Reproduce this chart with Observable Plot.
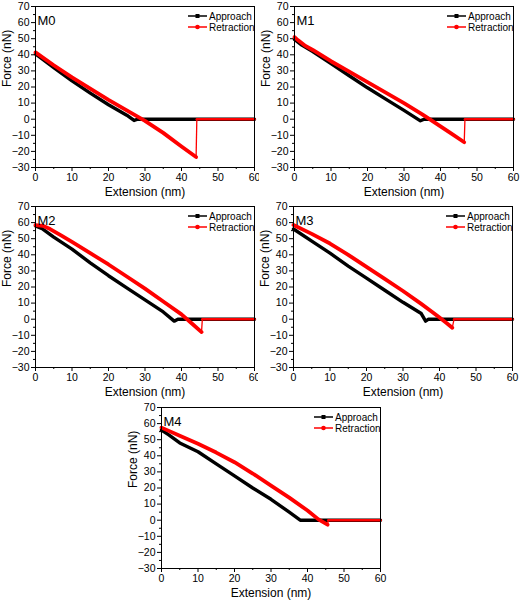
<!DOCTYPE html>
<html>
<head>
<meta charset="utf-8">
<script src="https://cdn.jsdelivr.net/npm/d3@7"></script>
<script src="https://cdn.jsdelivr.net/npm/@observablehq/plot@0.6"></script>
<style>
  html, body { margin: 0; padding: 0; background: white; }
  #root { position: relative; width: 520px; height: 604px; background: white; }
  .cell { position: absolute; }
</style>
</head>
<body>
<div id="root"></div>
<script>
// ---- tick values ----
const xTicks = [0, 10, 20, 30, 40, 50, 60];
const xMinor = [5, 15, 25, 35, 45, 55];
const yTicks = [-30, -20, -10, 0, 10, 20, 30, 40, 50, 60, 70];
const yMinor = [-25, -15, -5, 5, 15, 25, 35, 45, 55, 65];
const panelNames = ["M0", "M1", "M2", "M3", "M4"];
const seriesNames = ["Approach", "Retraction"];

// ---- data: [extension nm, force nN] ----
const approachM0 = [[0,40.5],[5,32],[10,23.8],[15,16.2],[20,9],[25,2.5],[27,-0.8],[28,0],[60,0]];
const retractM0  = [[0,41.5],[5,33.5],[10,26],[15,19],[20,12],[25,5.5],[30,-1],[35,-8.5],[40,-17],[44,-23.5]];
const releaseM0  = [[44.2,0],[60,0]];

const approachM1 = [[0,49.5],[2,46],[5,42],[10,34.5],[15,27],[20,19.5],[25,12.5],[30,5.5],[34.5,-1],[35.5,0],[60,0]];
const retractM1  = [[0,51],[1,49],[3,45.5],[5,43],[10,36],[15,29.5],[20,23],[25,16.5],[30,10],[35,3],[37,0],[40,-4.5],[43,-9],[46.5,-14.3]];
const releaseM1  = [[46.7,0],[60,0]];

const approachM2 = [[0,58],[2,56],[5,51],[10,43.5],[15,35],[20,27],[25,19.5],[30,12],[35,4.5],[38,-1.2],[39,0],[60,0]];
const retractM2  = [[0,58.5],[2,58],[4,56],[7,52],[10,48],[15,41],[20,34],[25,26.5],[30,19],[35,11],[40,3],[43,-3],[45.5,-8]];
const releaseM2  = [[45.7,0],[60,0]];

const approachM3 = [[0,56],[5,48.5],[10,41],[15,33],[20,25.5],[25,18],[30,10.5],[35,3.5],[36.2,-1.2],[37,0],[60,0]];
const retractM3  = [[0,58.5],[5,53],[10,47],[15,40],[20,32.5],[25,25],[30,17.5],[35,9.5],[38,4.5],[40,1],[42,-2.5],[43.5,-5.3]];
const releaseM3  = [[44,0],[60,0]];

const approachM4 = [[0,56],[2,53],[5,48],[10,42.5],[15,35],[20,27.5],[25,20],[30,13],[35,5],[38,0],[60,0]];
const retractM4  = [[0,57.5],[5,52.5],[10,47.5],[15,42],[20,36],[25,29],[30,21.5],[35,14],[40,6],[43,0.5],[45.5,-2.8]];
const releaseM4  = [[45.7,0],[60,0]];

const approachAll = [approachM0, approachM1, approachM2, approachM3, approachM4];
const retractAll  = [retractM0, retractM1, retractM2, retractM3, retractM4];
const releaseAll  = [releaseM0, releaseM1, releaseM2, releaseM3, releaseM4];

// ---- layout ----
const cellPos = [[0,0],[259,0],[0,200],[258,200],[126,401]];
const FONT = "'Liberation Sans', Arial, Helvetica, sans-serif";
const RED = "#ff0000";
const W = 260, H = 200, ML = 35, MR = 6, MT = 6, MB = 33;

function makePanel(i) {
  const approach = approachAll[i], retract = retractAll[i], release = releaseAll[i];
  const jump = [{a: retract[retract.length - 1], b: release[0]}];
  const chart = Plot.plot({
    width: W, height: H,
    marginLeft: ML, marginRight: MR, marginTop: MT, marginBottom: MB,
    x: {domain: [0, 60]},
    y: {domain: [-30, 70]},
    style: {fontFamily: FONT, fontSize: "10.5px", background: "white", color: "black", overflow: "visible"},
    marks: [
      Plot.axisX({ticks: xTicks, tickSize: 4, tickPadding: 2, label: null, fontSize: 10.5}),
      Plot.axisX({ticks: xMinor, tickSize: 2, tickFormat: () => "", label: null}),
      Plot.axisY({ticks: yTicks, tickSize: 4, tickPadding: 2, label: null, fontSize: 10.5}),
      Plot.axisY({ticks: yMinor, tickSize: 2, tickFormat: () => "", label: null}),
      Plot.line(approach, {x: d => d[0], y: d => d[1], stroke: "black", strokeWidth: 3.4, strokeLinejoin: "round"}),
      Plot.line(retract, {x: d => d[0], y: d => d[1], stroke: RED, strokeWidth: 3.8, strokeLinejoin: "round", strokeLinecap: "round"}),
      Plot.link(jump, {x1: d => d.a[0], y1: d => d.a[1], x2: d => d.b[0], y2: d => d.b[1], stroke: RED, strokeWidth: 1.3}),
      Plot.line(release, {x: d => d[0], y: d => d[1], stroke: RED, strokeWidth: 2.6}),
      Plot.frame({stroke: "black", strokeWidth: 1}),
      Plot.text([panelNames[i]], {text: d => d, frameAnchor: "top-left", dx: 2, dy: 9, textAnchor: "start", fontSize: 13}),
      Plot.text(["Force (nN)"], {text: d => d, frameAnchor: "left", dx: -28, rotate: -90, fontSize: 12}),
      Plot.text(["Extension (nm)"], {text: d => d, frameAnchor: "bottom", dy: 28, fontSize: 12})
    ]
  });
  // legend (inside top-right of the frame)
  const svg = d3.select(chart);
  const right = W - MR;
  const g = svg.append("g").attr("font-family", FONT).attr("font-size", "10px").attr("text-anchor", "start");
  const items = [{name: seriesNames[0], color: "black", sym: "square"}, {name: seriesNames[1], color: RED, sym: "circle"}];
  items.forEach((it, k) => {
    const y = MT + 10 + k * 11;
    const x0 = right - 66, x1 = right - 47, xm = (x0 + x1) / 2;
    g.append("line").attr("x1", x0).attr("x2", x1).attr("y1", y).attr("y2", y)
      .attr("stroke", it.color).attr("stroke-width", 1.5);
    if (it.sym === "square") {
      g.append("rect").attr("x", xm - 2).attr("y", y - 2).attr("width", 4).attr("height", 4).attr("fill", it.color);
    } else {
      g.append("circle").attr("cx", xm).attr("cy", y).attr("r", 2.3).attr("fill", it.color);
    }
    g.append("text").attr("x", right - 45).attr("y", y).attr("dy", "0.35em")
      .attr("text-anchor", "start").attr("fill", "black").text(it.name);
  });
  return chart;
}

const root = document.getElementById("root");
panelNames.forEach((name, i) => {
  const div = document.createElement("div");
  div.className = "cell";
  div.style.left = cellPos[i][0] + "px";
  div.style.top = cellPos[i][1] + "px";
  div.appendChild(makePanel(i));
  root.appendChild(div);
});
</script>
</body>
</html>
